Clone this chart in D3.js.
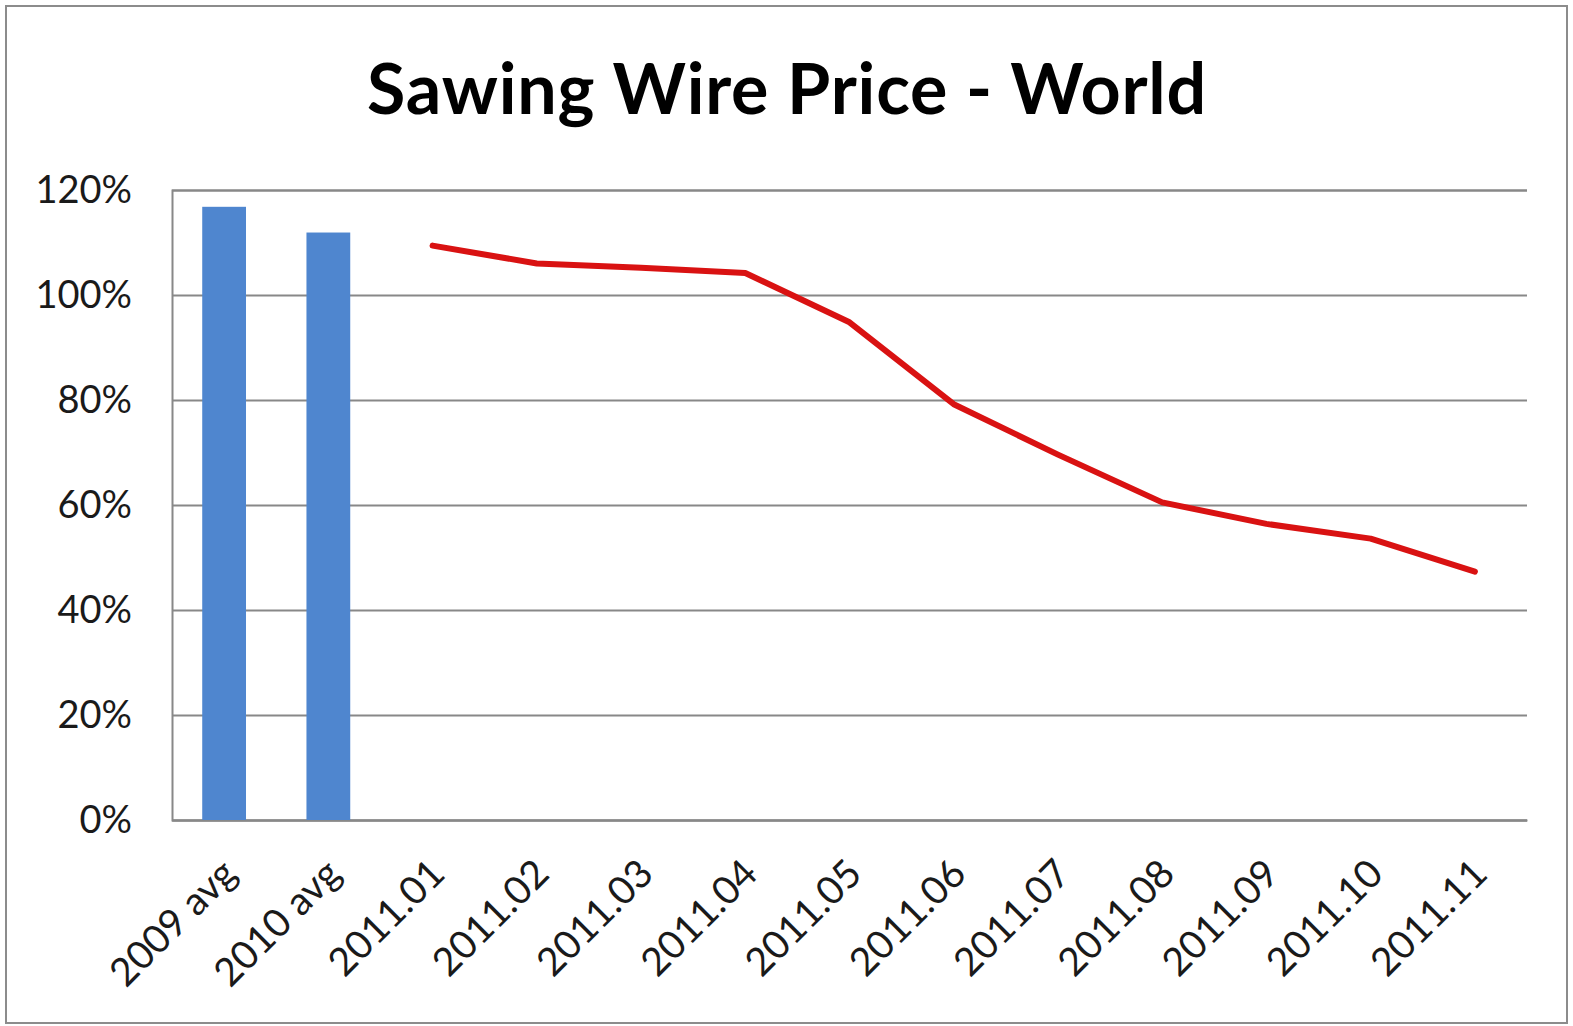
<!DOCTYPE html>
<html><head><meta charset="utf-8">
<script src="https://cdn.jsdelivr.net/npm/d3@7"></script>
<style>html,body{margin:0;padding:0;background:#fff;}svg{display:block;font-family:Lato,"Open Sans",sans-serif;}</style>
</head><body>
<svg id="chart" width="1573" height="1026"></svg>
<script>
const categories = ["2009 avg","2010 avg","2011.01","2011.02","2011.03","2011.04","2011.05","2011.06","2011.07","2011.08","2011.09","2011.10","2011.11"];
const barCategories = ["2009 avg","2010 avg"];
const barValues = [116.8, 111.9];
const lineCategories = ["2011.01","2011.02","2011.03","2011.04","2011.05","2011.06","2011.07","2011.08","2011.09","2011.10","2011.11"];
const lineValues = [109.4, 106.0, 105.2, 104.2, 94.8, 79.2, 69.6, 60.5, 56.4, 53.6, 47.3];
const yTicks = [0,20,40,60,80,100,120];
const title = "Sawing Wire Price - World";

(function(){
const svg = d3.select("#chart");
const W = 1573, H = 1026;
svg.append("rect").attr("x",6).attr("y",6).attr("width",W-12).attr("height",H-9)
  .attr("fill","#fff").attr("stroke","#8c8c8c").attr("stroke-width",2);

const pL = 172, pR = 1527, pT = 190, pB = 820;
const x = d3.scaleBand().domain(categories).range([pL,pR]).paddingInner(0.58).paddingOuter(0.29);
const xc = d3.scalePoint().domain(categories).range([pL,pR]).padding(0.5);
const y = d3.scaleLinear().domain([0,120]).range([pB,pT]);

svg.append("text").attr("x",787).attr("y",114).attr("text-anchor","middle")
  .attr("font-size",70).attr("font-weight","bold").attr("letter-spacing",0.8).attr("fill","#000").text(title);

const yAxis = d3.axisLeft(y).tickValues(yTicks).tickSize(-(pR-pL)).tickPadding(40).tickFormat(d=>d+"%");
const gy = svg.append("g").attr("transform",`translate(${pL},0)`).call(yAxis);
gy.select(".domain").attr("stroke","#888").attr("stroke-width",2);
gy.selectAll(".tick line").attr("stroke","#888").attr("stroke-width",2);
gy.selectAll(".tick text").attr("font-size",38).attr("fill","#1a1a1a").attr("font-family","Lato, sans-serif");

const xAxis = d3.axisBottom(xc).tickSize(0).tickPadding(0);
const gx = svg.append("g").attr("transform",`translate(0,${pB})`).call(xAxis);
gx.select(".domain").attr("stroke","#888").attr("stroke-width",2);
gx.selectAll(".tick text").attr("font-size",39).attr("fill","#1a1a1a").attr("font-family","Lato, sans-serif")
  .attr("text-anchor","end").attr("dy",0)
  .attr("transform","translate(14,56) rotate(-45)");

svg.append("g").selectAll("rect").data(barCategories).join("rect")
  .attr("x",d=>x(d)).attr("width",x.bandwidth())
  .attr("y",(d,i)=>y(barValues[i])).attr("height",(d,i)=>pB-y(barValues[i]))
  .attr("fill","#4F86CF");

const line = d3.line().x((d,i)=>xc(lineCategories[i])).y(d=>y(d));
svg.append("path").datum(lineValues).attr("d",line).attr("fill","none")
  .attr("stroke","#D91212").attr("stroke-width",6).attr("stroke-linejoin","round").attr("stroke-linecap","round");
})();
</script>
</body></html>
